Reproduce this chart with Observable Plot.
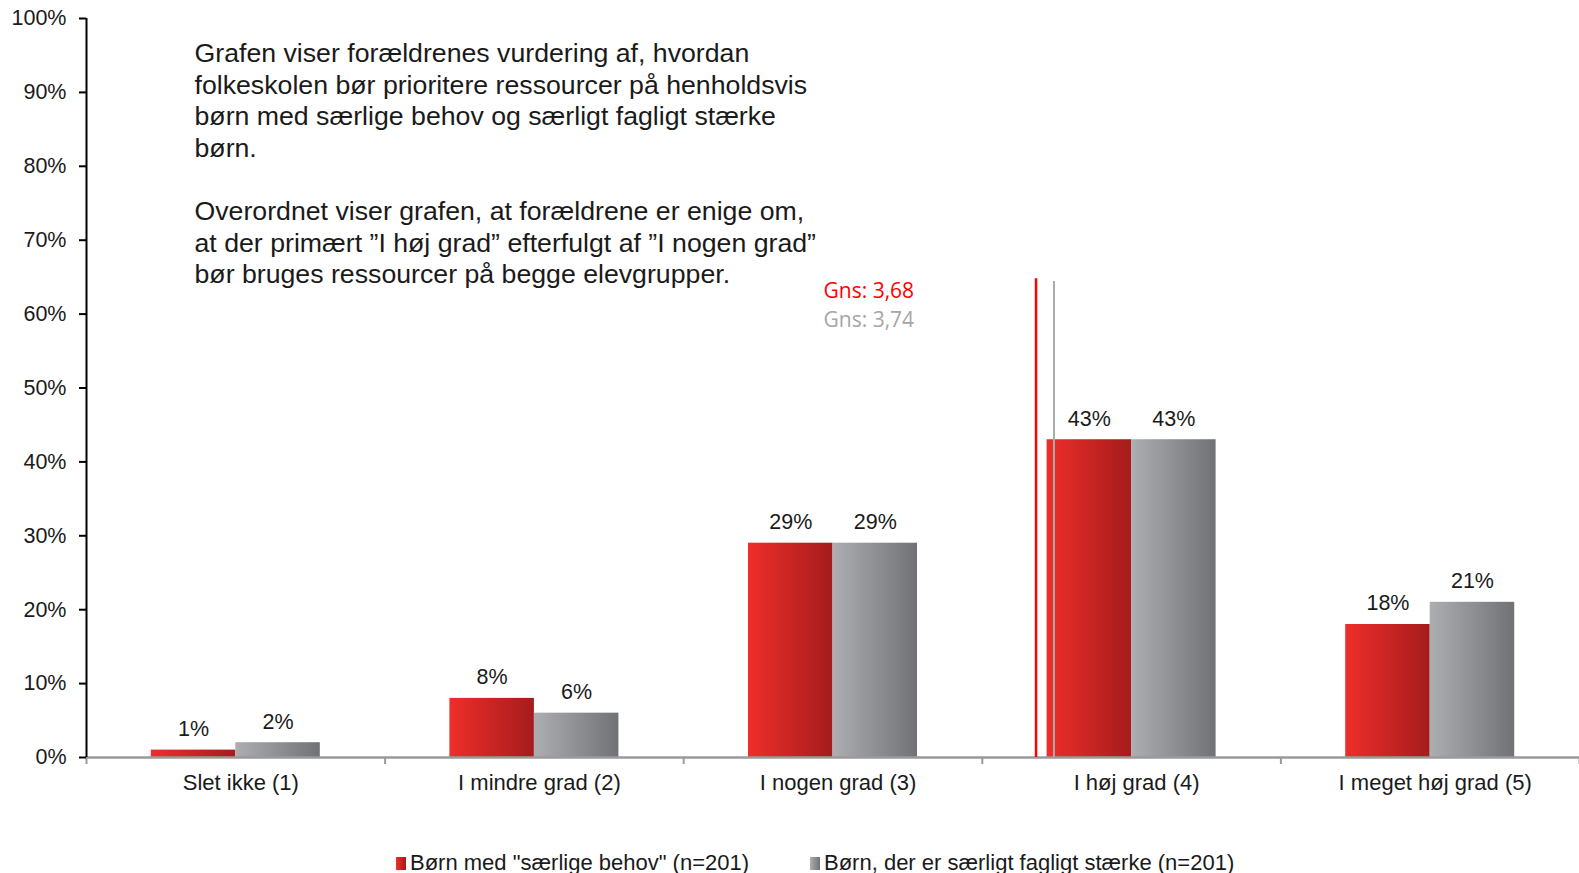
<!DOCTYPE html>
<html>
<head>
<meta charset="utf-8">
<script src="https://cdn.jsdelivr.net/npm/d3@7"></script>
<script src="https://cdn.jsdelivr.net/npm/@observablehq/plot@0.6"></script>
<style>
  html, body { margin: 0; padding: 0; background: #fff; }
  #chart { width: 1579px; }
  .legend { position: relative; height: 58px; font-family: "Liberation Sans", Arial, sans-serif; font-size: 22px; color: #1a1a1a; }
  .legend .item { position: absolute; top: 35px; display: flex; align-items: center; white-space: nowrap; }
  .legend .sw { width: 10px; height: 13px; margin-right: 4px; }
</style>
</head>
<body>
<div id="chart"></div>
<script>
// ---- data ----
const categories = ["Slet ikke (1)", "I mindre grad (2)", "I nogen grad (3)", "I høj grad (4)", "I meget høj grad (5)"];
const seriesNames = ['Børn med "særlige behov" (n=201)', "Børn, der er særligt fagligt stærke (n=201)"];
const specialNeeds = [1, 8, 29, 43, 18];
const strongPupils = [2, 6, 29, 43, 21];
const means = [3.68, 3.74];
const meanLabels = ["Gns: 3,68", "Gns: 3,74"];
const meanLineTops = [64.8, 64.4];
const yTicks = [0, 10, 20, 30, 40, 50, 60, 70, 80, 90, 100];
const annotation = "Grafen viser forældrenes vurdering af, hvordan\nfolkeskolen bør prioritere ressourcer på henholdsvis\nbørn med særlige behov og særligt fagligt stærke\nbørn.\n\nOverordnet viser grafen, at forældrene er enige om,\nat der primært \u201dI høj grad\u201d efterfulgt af \u201dI nogen grad\u201d\nbør bruges ressourcer på begge elevgrupper.";

// ---- build tables ----
const W = 0.283; // bar width in category units
const redRows = categories.map((c, i) => ({cat: c, pos: i + 1, value: specialNeeds[i]}));
const grayRows = categories.map((c, i) => ({cat: c, pos: i + 1, value: strongPupils[i]}));
const meanRows = means.map((m, i) => ({mean: m, top: meanLineTops[i], label: meanLabels[i]}));
const boundaries = d3.range(0.5, categories.length + 1, 1);
const centers = categories.map((c, i) => i + 1);

const font = "'Liberation Sans', Arial, sans-serif";
const calib = "'Open Sans', 'Noto Sans', sans-serif";

const svg = Plot.plot({
  width: 1579,
  height: 815,
  marginLeft: 86,
  marginRight: 0,
  marginTop: 18,
  marginBottom: 58,
  style: {fontFamily: font, fontSize: "21px", color: "#1a1a1a", background: "#fff"},
  x: {type: "linear", domain: [0.5, categories.length + 0.5], axis: null, label: null},
  y: {domain: [0, 100], axis: null, label: null},
  marks: [
    // bars
    Plot.rectY(redRows, {x1: d => d.pos - W, x2: d => d.pos, y: "value", fill: "url(#gRed)"}),
    Plot.rectY(grayRows, {x1: d => d.pos, x2: d => d.pos + W, y: "value", fill: "url(#gGray)"}),
    // value labels
    Plot.text(redRows, {x: d => d.pos - W / 2, y: "value", text: d => d.value + "%", dy: -21, fontSize: 21.5, fill: "#1a1a1a"}),
    Plot.text(grayRows, {x: d => d.pos + W / 2, y: "value", text: d => d.value + "%", dy: -21, fontSize: 21.5, fill: "#1a1a1a"}),
    // baseline and category boundary ticks
    Plot.ruleY([0], {stroke: "#9a9a9a", strokeWidth: 2.5}),
    Plot.axisX({ticks: boundaries, tickFormat: () => "", label: null, tickSize: 7, stroke: "#9a9a9a", strokeWidth: 2}),
    Plot.axisX({ticks: centers, tickFormat: d => categories[d - 1], label: null, tickSize: 0, tickPadding: 17, dx: 5, fontSize: 22, fill: "#1a1a1a"}),
    // y axis
    Plot.ruleX([0.5], {y1: 0, y2: 100, stroke: "#000", strokeWidth: 2}),
    Plot.axisY({ticks: yTicks, tickFormat: d => d + "%", label: null, tickSize: 7, tickPadding: 13, stroke: "#000", strokeWidth: 2, fontSize: 21.5, fill: "#1a1a1a"}),
    // mean lines
    Plot.ruleX(meanRows.slice(0, 1), {x: "mean", y1: 0, y2: "top", stroke: "#ff0000", strokeWidth: 2.5}),
    Plot.ruleX(meanRows.slice(1), {x: "mean", y1: 0, y2: "top", stroke: "#ababab", strokeWidth: 2}),
    Plot.text(meanRows.slice(0, 1), {text: "label", frameAnchor: "top-left", dx: 737, dy: 265, textAnchor: "start", fontFamily: calib, fontSize: 21, fill: "#ff0000"}),
    Plot.text(meanRows.slice(1), {text: "label", frameAnchor: "top-left", dx: 737, dy: 294, textAnchor: "start", fontFamily: calib, fontSize: 21, fill: "#a6a6a6"}),
    // annotation
    Plot.text([annotation], {text: d => d, frameAnchor: "top-left", dx: 108, dy: 21, textAnchor: "start", lineAnchor: "top", lineHeight: 1.185, fontSize: 26.7, fill: "#1a1a1a"})
  ]
});

d3.select(svg).insert("defs", ":first-child").html(`
  <linearGradient id="gRed" x1="0" x2="1" y1="0" y2="0">
    <stop offset="0" stop-color="#ef2e2a"/>
    <stop offset="1" stop-color="#a51c1c"/>
  </linearGradient>
  <linearGradient id="gGray" x1="0" x2="1" y1="0" y2="0">
    <stop offset="0" stop-color="#adaeb1"/>
    <stop offset="1" stop-color="#707275"/>
  </linearGradient>`);

document.getElementById("chart").appendChild(svg);

// legend
const legend = d3.select("#chart").append("div").attr("class", "legend");
const swatches = ["linear-gradient(to right,#ef2e2a,#a51c1c)", "linear-gradient(to right,#adaeb1,#707275)"];
const lefts = [396, 810];
seriesNames.forEach((name, i) => {
  const it = legend.append("div").attr("class", "item").style("left", lefts[i] + "px");
  it.append("div").attr("class", "sw").style("background", swatches[i]);
  it.append("span").text(name);
});
</script>
</body>
</html>
